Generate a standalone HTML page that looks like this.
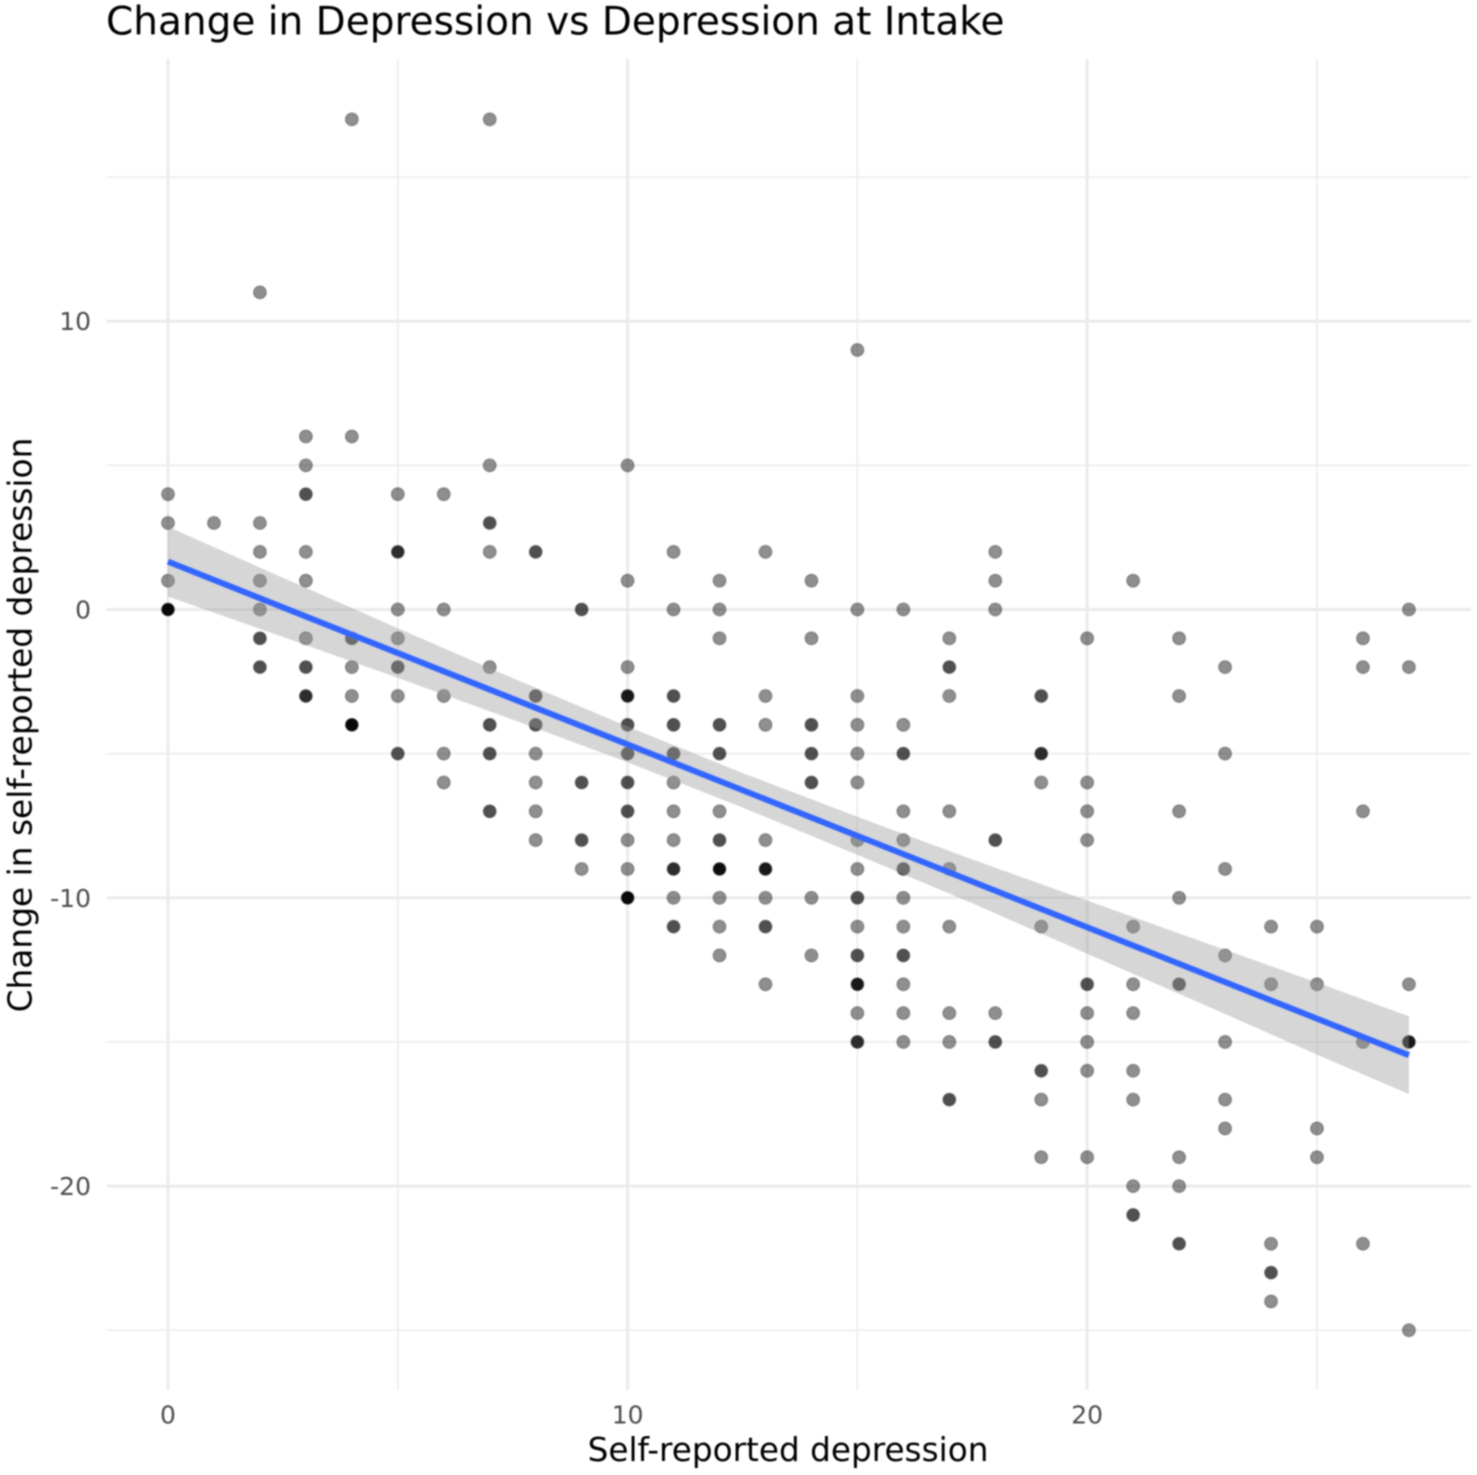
<!DOCTYPE html>
<html lang="en">
<head>
<meta charset="utf-8">
<title>Change in Depression vs Depression at Intake</title>
<style>
  html, body { margin: 0; padding: 0; background: #fff; width: 1477px; height: 1475px; overflow: hidden; }
  svg { display: block; filter: blur(0.7px); }
  text { font-family: "DejaVu Sans", "Liberation Sans", sans-serif; }
</style>
</head>
<body>
<svg id="chart" xmlns="http://www.w3.org/2000/svg" width="1477" height="1475" viewBox="0 0 1477 1475">
  <rect width="1477" height="1475" fill="#fff"/>
  <g id="grid"></g>
  <g id="points"></g>
  <polygon id="band" fill="#999999" fill-opacity="0.4"></polygon>
  <polyline id="trend" fill="none" stroke="#3366FF" stroke-width="6"></polyline>
  <g id="ticks"></g>
  <text x="106" y="34.5" font-size="39" fill="#000">Change in Depression vs Depression at Intake</text>
  <text x="788" y="1461" font-size="32.7" fill="#000" text-anchor="middle">Self-reported depression</text>
  <text transform="translate(31.5 725) rotate(-90)" font-size="32.8" fill="#000" text-anchor="middle">Change in self-reported depression</text>
</svg>
<script>
const xMajorTicks = [0, 10, 20];
const xMinorTicks = [5, 15, 25];
const yMajorTicks = [10, 0, -10, -20];
const yMinorTicks = [15, 5, -5, -15, -25];

const pointX = [
  0,0,0,0,
  1,
  2,2,2,2,2,2,2,
  3,3,3,3,3,3,3,3,
  4,4,4,4,4,4,
  5,5,5,5,5,5,5,
  6,6,6,6,6,
  7,7,7,7,7,7,7,7,
  8,8,8,8,8,8,8,
  9,9,9,9,
  10,10,10,10,10,10,10,10,10,10,10,
  11,11,11,11,11,11,11,11,11,11,11,
  12,12,12,12,12,12,12,12,12,12,12,
  13,13,13,13,13,13,13,13,
  14,14,14,14,14,14,14,
  15,15,15,15,15,15,15,15,15,15,15,15,15,15,
  16,16,16,16,16,16,16,16,16,16,16,16,
  17,17,17,17,17,17,17,17,17,
  18,18,18,18,18,18,
  19,19,19,19,19,19,19,
  20,20,20,20,20,20,20,20,20,
  21,21,21,21,21,21,21,21,
  22,22,22,22,22,22,22,22,
  23,23,23,23,23,23,23,
  24,24,24,24,24,
  25,25,25,25,
  26,26,26,26,26,
  27,27,27,27,27
];
const pointY = [
  4,3,1,0,
  3,
  11,3,2,1,0,-1,-2,
  6,5,4,2,1,-1,-2,-3,
  17,6,-1,-2,-3,-4,
  4,2,0,-1,-2,-3,-5,
  4,0,-3,-5,-6,
  17,5,3,2,-2,-4,-5,-7,
  2,-3,-4,-5,-6,-7,-8,
  0,-6,-8,-9,
  5,1,-2,-3,-4,-5,-6,-7,-8,-9,-10,
  2,0,-3,-4,-5,-6,-7,-8,-9,-10,-11,
  1,0,-1,-4,-5,-7,-8,-9,-10,-11,-12,
  2,-3,-4,-8,-9,-10,-11,-13,
  1,-1,-4,-5,-6,-10,-12,
  9,0,-3,-4,-5,-6,-8,-9,-10,-11,-12,-13,-14,-15,
  0,-4,-5,-7,-8,-9,-10,-11,-12,-13,-14,-15,
  -1,-2,-3,-7,-9,-11,-14,-15,-17,
  2,1,0,-8,-14,-15,
  -3,-5,-6,-11,-16,-17,-19,
  -1,-6,-7,-8,-13,-14,-15,-16,-19,
  1,-11,-13,-14,-16,-17,-20,-21,
  -1,-3,-7,-10,-13,-19,-20,-22,
  -2,-5,-9,-12,-15,-17,-18,
  -11,-13,-22,-23,-24,
  -11,-13,-18,-19,
  -1,-2,-7,-15,-22,
  0,-2,-13,-15,-25
];
const pointCount = [
  1,1,1,6,
  1,
  1,1,1,1,1,2,2,
  1,1,2,1,1,1,2,3,
  1,1,2,1,1,6,
  1,3,1,1,2,1,2,
  1,1,1,1,1,
  1,1,2,1,1,2,2,2,
  2,2,2,1,1,1,1,
  2,2,2,1,
  1,1,1,4,2,2,2,2,1,1,6,
  1,1,2,2,2,1,1,1,3,1,2,
  1,1,1,2,2,1,2,5,1,1,1,
  1,1,1,1,4,1,2,1,
  1,1,2,2,2,1,1,
  1,1,1,1,1,1,1,1,2,1,2,4,1,3,
  1,1,2,1,1,2,1,1,2,1,1,1,
  1,2,1,1,1,1,1,1,2,
  1,1,1,2,1,2,
  2,3,1,1,2,1,1,
  1,1,1,1,2,1,1,1,1,
  1,1,1,1,1,1,1,2,
  1,1,1,1,2,1,1,2,
  1,1,1,1,1,1,1,
  1,1,1,2,1,
  1,1,1,1,
  1,1,1,1,1,
  1,1,1,4,1
];

const fitX = [0, 27];
const fitY = [1.66, -15.46];
const bandX = [0, 2.5, 5, 7.5, 10, 12.5, 15, 17.5, 20, 22.5, 25, 27];
const bandUpper = [2.87, 1.1, -0.65, -2.38, -4.06, -5.67, -7.19, -8.67, -10.1, -11.52, -12.94, -14.11];
const bandLower = [0.45, -0.95, -2.37, -3.82, -5.3, -6.87, -8.51, -10.19, -11.94, -13.68, -15.44, -16.81];

const xOf = v => 168 + v * 45.96;
const yOf = v => 609.5 - v * 28.83;
const NS = 'http://www.w3.org/2000/svg';

const grid = document.getElementById('grid');
function gridLine(x1, y1, x2, y2, w, name) {
  const l = document.createElementNS(NS, 'line');
  l.setAttribute('x1', x1);
  l.setAttribute('y1', y1);
  l.setAttribute('x2', x2);
  l.setAttribute('y2', y2);
  l.setAttribute('stroke', '#EBEBEB');
  l.setAttribute('stroke-width', w);
  
  
  grid.appendChild(l);
}
yMinorTicks.forEach(v => gridLine(107, yOf(v), 1471, yOf(v), 1.6, 'y-minor-gridline'));
xMinorTicks.forEach(v => gridLine(xOf(v), 59, xOf(v), 1390, 1.6, 'x-minor-gridline'));
yMajorTicks.forEach(v => gridLine(107, yOf(v), 1471, yOf(v), 3, 'y-major-gridline'));
xMajorTicks.forEach(v => gridLine(xOf(v), 59, xOf(v), 1390, 3, 'x-major-gridline'));

const pointsLayer = document.getElementById('points');
pointX.forEach((px, i) => {
  const c = document.createElementNS(NS, 'circle');
  c.setAttribute('cx', xOf(px));
  c.setAttribute('cy', yOf(pointY[i]));
  c.setAttribute('r', 6.4);
  const alpha = 1 - Math.pow(0.56, pointCount[i]);
  c.setAttribute('fill', 'rgba(0,0,0,' + alpha.toFixed(3) + ')');
  c.setAttribute('stroke', 'rgba(0,0,0,0.25)');
  c.setAttribute('stroke-width', '1.4');
  
  
  pointsLayer.appendChild(c);
});

const upperPts = bandX.map((v, i) => xOf(v) + ',' + yOf(bandUpper[i]));
const lowerPts = bandX.map((v, i) => xOf(v) + ',' + yOf(bandLower[i])).reverse();
document.getElementById('band').setAttribute('points', upperPts.concat(lowerPts).join(' '));
document.getElementById('trend').setAttribute('points', fitX.map((v, i) => xOf(v) + ',' + yOf(fitY[i])).join(' '));

const ticks = document.getElementById('ticks');
function tickLabel(x, y, anchor, str, name) {
  const t = document.createElementNS(NS, 'text');
  t.setAttribute('x', x);
  t.setAttribute('y', y);
  t.setAttribute('text-anchor', anchor);
  t.setAttribute('font-size', '25');
  t.setAttribute('fill', '#4D4D4D');
  
  
  t.textContent = str;
  ticks.appendChild(t);
}
xMajorTicks.forEach(v => tickLabel(xOf(v), 1423.5, 'middle', String(v), 'x-tick-label'));
yMajorTicks.forEach(v => tickLabel(91, yOf(v) + 9, 'end', String(v), 'y-tick-label'));
</script>
</body>
</html>
